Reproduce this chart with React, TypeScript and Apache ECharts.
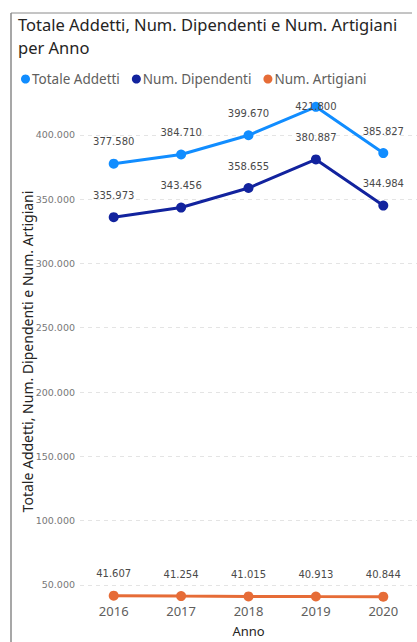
import React, { useEffect, useRef } from "react";
import * as echarts from "echarts";

const years = ["2016", "2017", "2018", "2019", "2020"];
const totaleAddetti = [377580, 384710, 399670, 421800, 385827];
const numDipendenti = [335973, 343456, 358655, 380887, 344984];
const numArtigiani = [41607, 41254, 41015, 40913, 40844];

const fmt = (v: number) => {
  const s = Math.round(v).toString();
  return s.replace(/\B(?=(\d{3})+(?!\d))/g, ".");
};

export default function App() {
  const ref = useRef<HTMLDivElement>(null);
  useEffect(() => {
    const chart = echarts.init(ref.current!, null, { renderer: "svg" });
    const labelStyle = {
      show: true,
      position: "top" as const,
      distance: 12,
      fontSize: 10,
      color: "#4a4a4a",
      fontFamily: "DejaVu Sans",
      formatter: (p: any) => fmt(p.value),
    };
    const mk = (name: string, data: number[], color: string) => ({
      name,
      type: "line",
      data: data.map((v, i) =>
        name === "Totale Addetti" && i === 3
          ? { value: v, label: { position: "inside", offset: [0, 0] } }
          : v
      ),
      symbol: "circle",
      symbolSize: 10,
      lineStyle: { width: 3, color },
      itemStyle: { color },
      label: labelStyle,
    });
    chart.setOption({
      animation: false,
      color: ["#118DFF", "#12239E", "#E66C37"],
      graphic: [
        { type: "line", shape: { x1: 11, y1: 13, x2: 412, y2: 13 }, style: { stroke: "#8a8a8a", lineWidth: 1 } },
        { type: "line", shape: { x1: 11, y1: 13, x2: 11, y2: 642 }, style: { stroke: "#8a8a8a", lineWidth: 1.5 } },
        {
          type: "text",
          left: 18,
          top: 16,
          style: {
            text: "Totale Addetti, Num. Dipendenti e Num. Artigiani",
            fontSize: 16.5,
            fill: "#252423",
            fontFamily: "Noto Sans",
          },
        },
        {
          type: "text",
          left: 18,
          top: 39,
          style: {
            text: "per Anno",
            fontSize: 16.5,
            fill: "#252423",
            fontFamily: "Noto Sans",
          },
        },
      ],
      legend: {
        left: 16,
        top: 67,
        icon: "circle",
        itemWidth: 9,
        itemHeight: 9,
        itemGap: 12,
        textStyle: { fontSize: 13.5, color: "#605E5C", fontFamily: "Noto Sans", padding: [0, 0, 0, -3] },
        data: ["Totale Addetti", "Num. Dipendenti", "Num. Artigiani"],
      },
      grid: { left: 80, right: -5, top: 104, bottom: 38 },
      xAxis: {
        type: "category",
        data: years,
        axisLine: { show: false },
        axisTick: { show: false },
        axisLabel: { color: "#605E5C", fontSize: 13, margin: 5, fontFamily: "Noto Sans" },
        name: "Anno",
        nameLocation: "middle",
        nameGap: 25,
        nameMoveOverlap: false,
        nameTextStyle: { fontSize: 13, color: "#252423", fontFamily: "Noto Sans" },
      },
      yAxis: {
        type: "value",
        min: 39000,
        max: 424000,
        splitNumber: 8,
        minInterval: 50000,
        maxInterval: 50000,
        axisLine: { show: false },
        axisTick: { show: false },
        axisLabel: {
          color: "#777",
          fontSize: 9.5,
          margin: 5,
          fontFamily: "DejaVu Sans",
          showMinLabel: false,
          showMaxLabel: false,
          formatter: (v: number) => fmt(v),
        },
        splitLine: {
          showMinLine: false,
          showMaxLine: false,
          lineStyle: { type: [4, 4], color: "#e4e4e4", width: 1 },
        },
        name: "Totale Addetti, Num. Dipendenti e Num. Artigiani",
        nameLocation: "middle",
        nameRotate: 90,
        nameGap: 46,
        nameMoveOverlap: false,
        nameTextStyle: { fontSize: 14, color: "#252423", fontFamily: "Noto Sans" },
      },
      series: [
        mk("Totale Addetti", totaleAddetti, "#118DFF"),
        mk("Num. Dipendenti", numDipendenti, "#12239E"),
        mk("Num. Artigiani", numArtigiani, "#E66C37"),
      ],
    });
    return () => chart.dispose();
  }, []);
  return <div ref={ref} style={{ width: 417, height: 642, position: "absolute", left: 0, top: 0 }} />;
}
